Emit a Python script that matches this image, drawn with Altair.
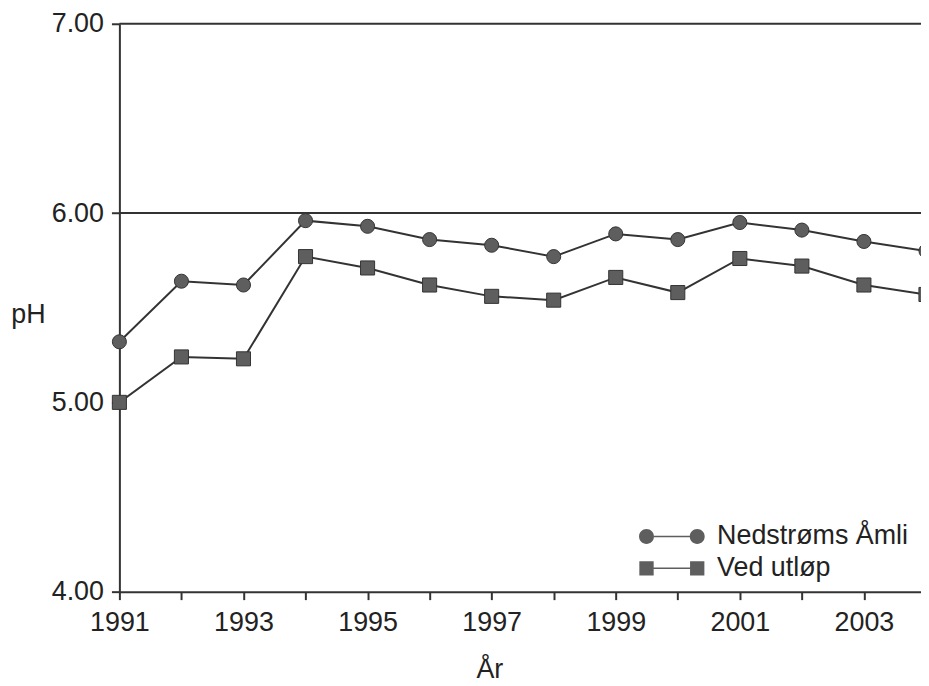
import altair as alt
import pandas as pd

# ---- data ----
years = list(range(1991, 2005))
amli = [5.32, 5.64, 5.62, 5.96, 5.93, 5.86, 5.83, 5.77, 5.89, 5.86, 5.95, 5.91, 5.85, 5.80]
utlop = [5.00, 5.24, 5.23, 5.77, 5.71, 5.62, 5.56, 5.54, 5.66, 5.58, 5.76, 5.72, 5.62, 5.57]
series_names = ["Nedstrøms Åmli", "Ved utløp"]
x_tick_values = list(range(1991, 2004))
y_tick_values = [4.0, 5.0, 6.0, 7.0]
ref_lines = [6.0, 7.0]

df = pd.DataFrame({
    "year": years + years,
    "ph": amli + utlop,
    "series": [series_names[0]] * len(years) + [series_names[1]] * len(years),
})
ref_df = pd.DataFrame({"ph": ref_lines})

FONT = "Liberation Sans"
INK = "#333333"
MARKER = "#5e5e5e"
FS = 27


def fmt(v):
    return f"{v:.3f}"


def circle_path(cx, r):
    k = 0.5523 * r
    return (f"M{fmt(cx - r)},0C{fmt(cx - r)},{fmt(-k)} {fmt(cx - k)},{fmt(-r)} {fmt(cx)},{fmt(-r)}"
            f"C{fmt(cx + k)},{fmt(-r)} {fmt(cx + r)},{fmt(-k)} {fmt(cx + r)},0"
            f"C{fmt(cx + r)},{fmt(k)} {fmt(cx + k)},{fmt(r)} {fmt(cx)},{fmt(r)}"
            f"C{fmt(cx - k)},{fmt(r)} {fmt(cx - r)},{fmt(k)} {fmt(cx - r)},0Z")


def square_path(cx, h):
    return (f"M{fmt(cx - h)},{fmt(-h)}L{fmt(cx + h)},{fmt(-h)}L{fmt(cx + h)},{fmt(h)}"
            f"L{fmt(cx - h)},{fmt(h)}Z")


def bar_path(x0, x1, h):
    return f"M{fmt(x0)},{fmt(-h)}L{fmt(x1)},{fmt(-h)}L{fmt(x1)},{fmt(h)}L{fmt(x0)},{fmt(h)}Z"


legend_circle = circle_path(-2.55, 0.75) + bar_path(-1.8, 1.8, 0.08) + circle_path(2.55, 0.75)
legend_square = square_path(-2.55, 0.72) + bar_path(-1.83, 1.83, 0.08) + square_path(2.55, 0.72)

x_enc = alt.X(
    "year:Q",
    scale=alt.Scale(domain=[1991, 2003.92], nice=False, zero=False),
    axis=alt.Axis(
        values=x_tick_values,
        format="d",
        labelExpr="datum.value % 2 == 1 ? datum.label : ''",
        labelOverlap=False,
        labelFlush=False,
        labelPadding=10,
        title="År",
        titleX=372,
        titleY=86,
        titleAlign="center",
        titleBaseline="alphabetic",
    ),
)
y_enc = alt.Y(
    "ph:Q",
    scale=alt.Scale(domain=[4, 7], nice=False, zero=False),
    axis=alt.Axis(
        values=y_tick_values,
        format=".2f",
        labelFlush=False,
        labelPadding=8,
        title="pH",
        titleAngle=0,
        titleX=-92,
        titleY=300,
        titleAlign="center",
        titleBaseline="alphabetic",
    ),
)

rules = alt.Chart(ref_df).mark_rule(color=INK, strokeWidth=2).encode(y=y_enc)

lines = alt.Chart(df).mark_line(color=INK, strokeWidth=2, clip=True).encode(
    x=x_enc, y=y_enc, detail="series:N"
)

points = alt.Chart(df).mark_point(
    filled=True, size=200, opacity=1, fill=MARKER, stroke=INK, strokeWidth=1
).encode(
    x=x_enc,
    y=y_enc,
    shape=alt.Shape(
        "series:N",
        scale=alt.Scale(domain=series_names, range=["circle", "square"]),
        legend=None,
    ),
)

legend_layer = alt.Chart(df).transform_filter("false").mark_point(
    filled=True, size=400, opacity=1, fill=MARKER, stroke=INK, strokeWidth=1
).encode(
    x=x_enc,
    y=y_enc,
    shape=alt.Shape(
        "series:N",
        scale=alt.Scale(domain=series_names, range=[legend_circle, legend_square]),
        legend=alt.Legend(
            title=None,
            orient="none",
            legendX=542,
            legendY=502,
            labelFont=FONT,
            labelFontSize=FS,
            labelColor="#222222",
            labelLimit=500,
            symbolSize=400,
            symbolFillColor=MARKER,
            symbolStrokeColor=INK,
            symbolStrokeWidth=1,
            symbolOpacity=1,
            labelOffset=32,
            rowPadding=4,
            padding=0,
        ),
    ),
)

chart = (
    alt.layer(rules, lines, points, legend_layer)
    .resolve_scale(shape="independent")
    .properties(
        width=806,
        height=571,
        autosize=alt.AutoSizeParams(type="none"),
        padding={"left": 112, "top": 14, "right": 0, "bottom": 93},
    )
    .configure(font=FONT)
    .configure_view(strokeWidth=0)
    .configure_axis(
        grid=False,
        domainColor=INK,
        domainWidth=2,
        tickColor=INK,
        tickWidth=2,
        tickSize=8,
        labelFont=FONT,
        labelFontSize=FS,
        labelColor="#222222",
        titleFont=FONT,
        titleFontSize=FS,
        titleFontWeight="normal",
        titleColor="#222222",
    )
)

chart.save("out.html", embed_options={"renderer": "svg", "actions": False})
